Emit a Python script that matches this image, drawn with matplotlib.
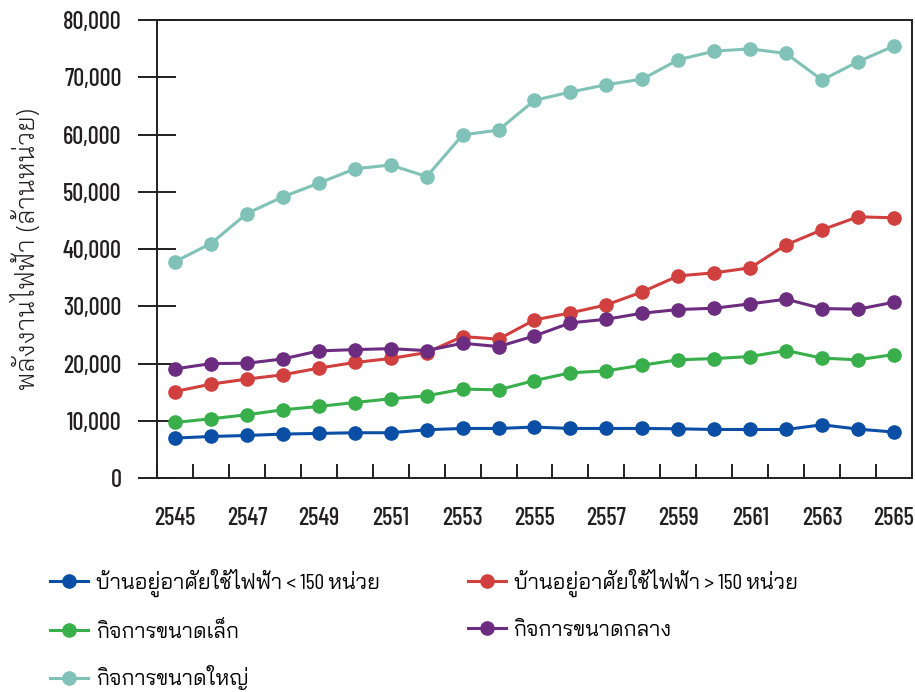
import matplotlib
matplotlib.use("Agg")
import matplotlib.pyplot as plt
from matplotlib.ticker import FuncFormatter, MultipleLocator

years = list(range(2545, 2566))
year_labels = [str(y) for y in range(2545, 2566, 2)]

# ล้านหน่วย
home_small = [6980, 7260, 7430, 7680, 7790, 7910, 7910, 8430, 8660, 8660, 8900,
              8660, 8660, 8660, 8600, 8480, 8480, 8480, 9300, 8540, 8030]
home_large = [15110, 16400, 17280, 18030, 19200, 20180, 20880, 21920, 24710, 24260, 27620,
              28850, 30240, 32520, 35310, 35840, 36710, 40730, 43360, 45630, 45450]
biz_small = [9700, 10350, 11050, 11920, 12500, 13190, 13840, 14360, 15530, 15410, 17030,
             18380, 18730, 19720, 20650, 20870, 21220, 22270, 20940, 20650, 21570]
biz_medium = [19060, 19990, 20050, 20800, 22200, 22430, 22600, 22260, 23540, 22960, 24830,
              27100, 27740, 28790, 29430, 29660, 30420, 31240, 29600, 29490, 30710]
biz_large = [37790, 40960, 46200, 49110, 51500, 54000, 54680, 52640, 59920, 60780, 65970,
             67420, 68700, 69680, 73060, 74560, 74960, 74150, 69510, 72730, 75450]

series = [
    ("บ้านอยู่อาศัยใช้ไฟฟ้า < 150 หน่วย", home_small, "#0a4fa5"),
    ("บ้านอยู่อาศัยใช้ไฟฟ้า > 150 หน่วย", home_large, "#d0403e"),
    ("กิจการขนาดเล็ก", biz_small, "#38af4b"),
    ("กิจการขนาดกลาง", biz_medium, "#6c2d80"),
    ("กิจการขนาดใหญ่", biz_large, "#80c2b8"),
]

num_font = ["Barlow Condensed", "Bai Jamjuree", "DejaVu Sans"]
thai_font = ["Barlow Condensed", "Bai Jamjuree", "DejaVu Sans"]
plt.rcParams["font.family"] = thai_font
ink = "#231f20"

fig = plt.figure(figsize=(9.15, 6.92), dpi=100)
ax = fig.add_axes([0.1716, 0.3092, 0.8251, 0.6619])

lines = []
for name, vals, col in series:
    ln, = ax.plot(years, vals, color=col, lw=2.2, marker="o", ms=9.5, label=name)
    lines.append(ln)

ax.set_xlim(2544.5, 2565.5)
ax.set_ylim(0, 80000)
ax.yaxis.set_major_locator(MultipleLocator(10000))
ax.yaxis.set_major_formatter(FuncFormatter(lambda v, p: f"{v:,.0f}"))
ax.set_xticks(range(2545, 2566, 2))
ax.set_xticklabels(year_labels)
ax.set_xticks([y + 0.5 for y in range(2544, 2565)], minor=True)

for s in ax.spines.values():
    s.set_color(ink)
    s.set_linewidth(1.4)

ax.tick_params(axis="y", direction="inout", length=27, width=1.4, color=ink, pad=12)
ax.tick_params(axis="x", which="major", length=0, pad=21)
ax.tick_params(axis="x", which="minor", direction="in", length=10, width=1.4, color=ink)
for lab in ax.get_xticklabels() + ax.get_yticklabels():
    lab.set_family(num_font)
    lab.set_fontweight(500)
    lab.set_fontsize(17.5)
    lab.set_color(ink)

ax.set_ylabel("พลังงานไฟฟ้า (ล้านหน่วย)", fontsize=19, color=ink, family=["Bai Jamjuree", "DejaVu Sans"], fontweight=300)
ax.yaxis.set_label_coords(-0.155, 0.5)

order = [0, 2, 4, 1, 3]
fig.legend([lines[i] for i in order], [series[i][0] for i in order],
           loc="upper left", bbox_to_anchor=(0.0546, 0.178), ncol=2, frameon=False,
           fontsize=15.5, handlelength=1.77, handletextpad=0.35, columnspacing=4.1,
           labelspacing=1.1, borderaxespad=0, borderpad=0)

fig.savefig("out.png", dpi=100)
